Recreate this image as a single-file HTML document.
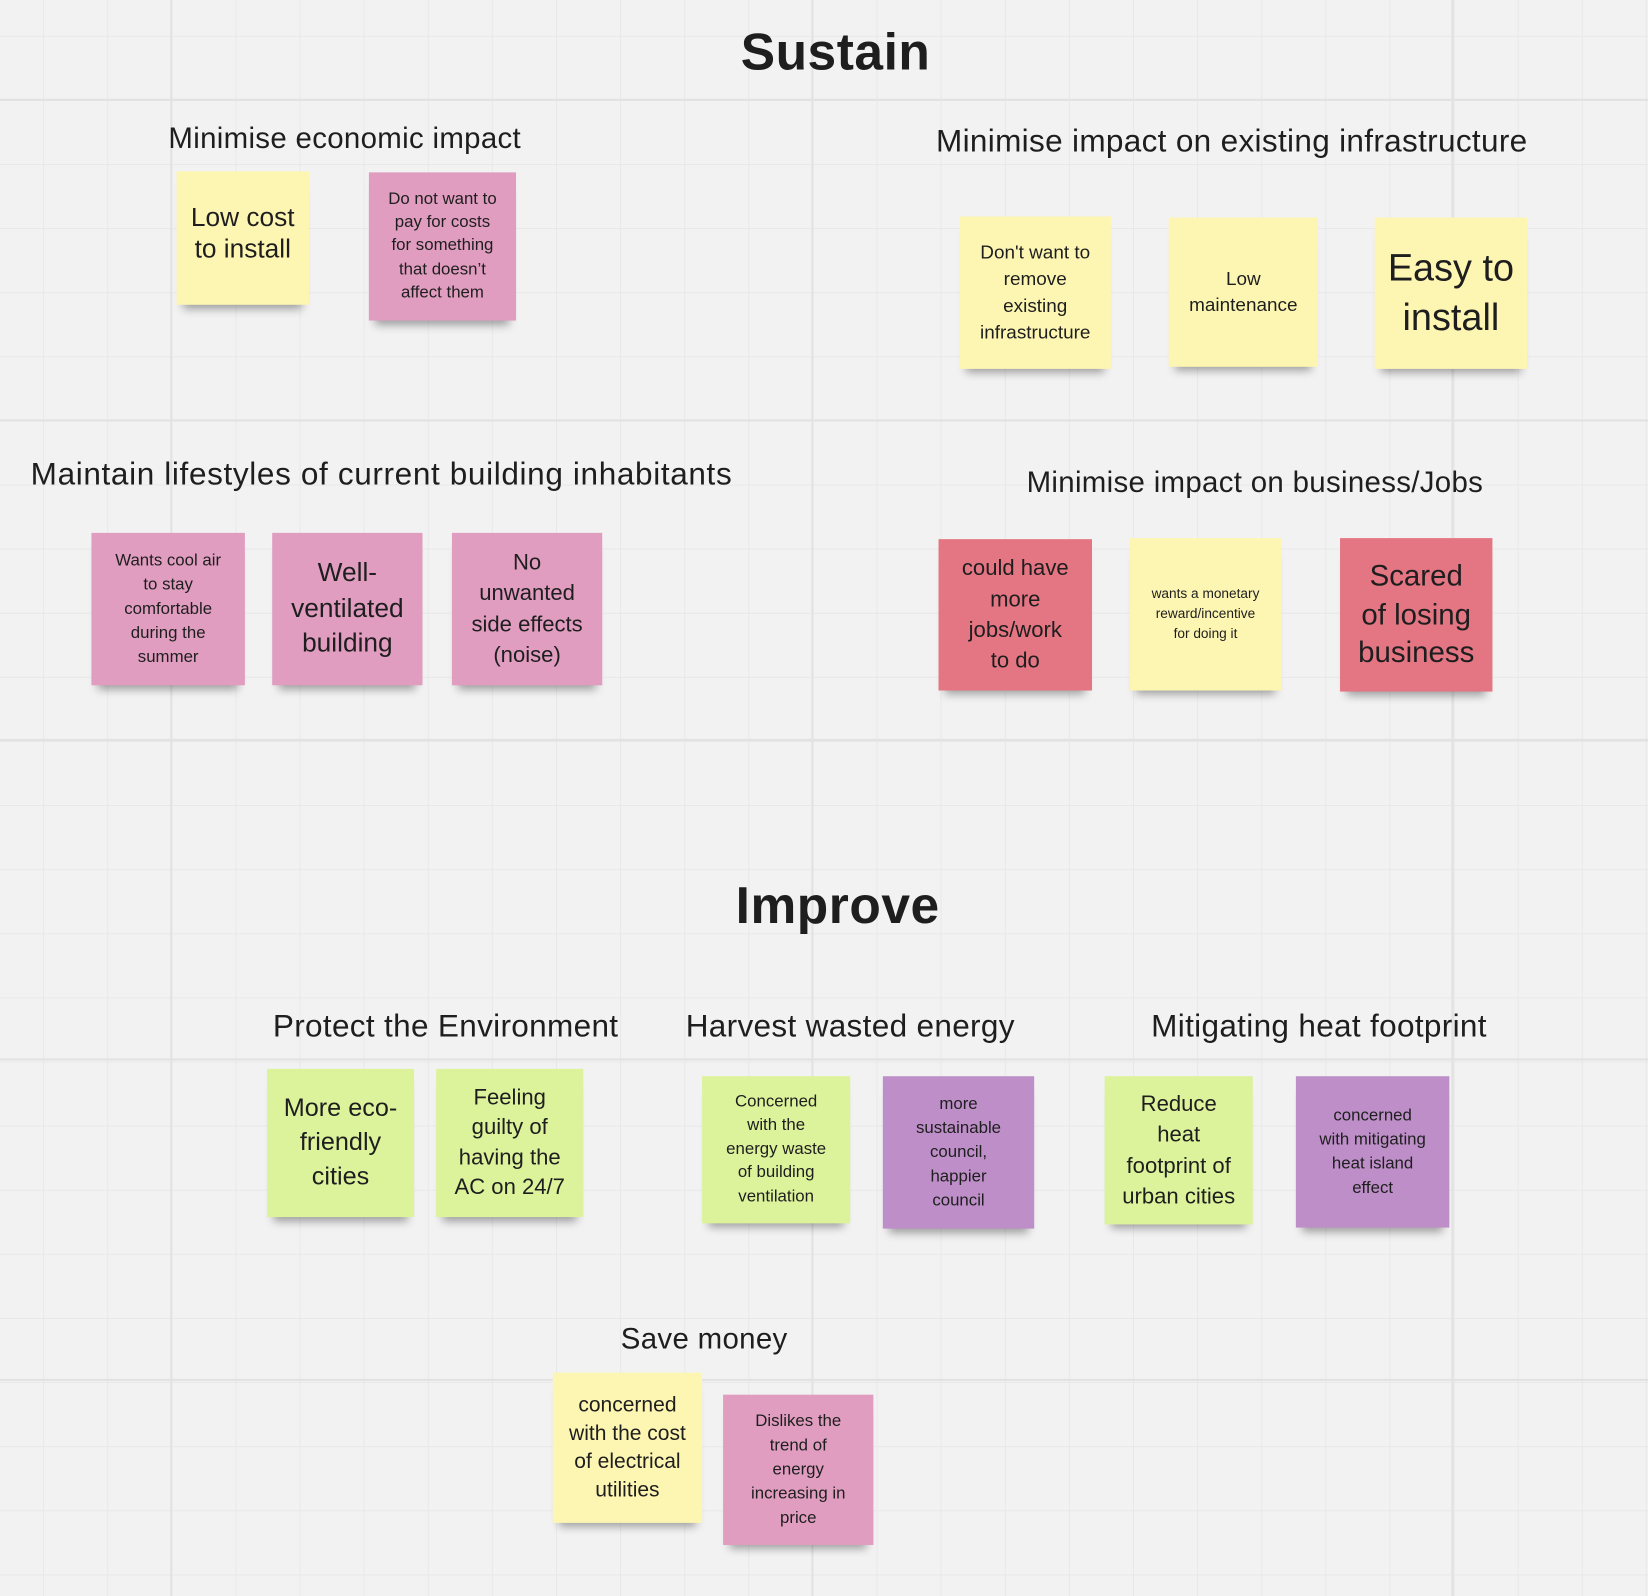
<!DOCTYPE html>
<html><head><meta charset="utf-8"><style>
html,body{margin:0;padding:0;width:1648px;height:1596px;overflow:hidden;background:#f2f2f2}
#w{position:absolute;left:0;top:0;width:1568px;height:1519px;transform:scale(1.051);transform-origin:0 0;
background-color:#f2f2f2;
background-image:linear-gradient(to right,#e8e8e8 1px,transparent 1px),linear-gradient(to bottom,#e8e8e8 1px,transparent 1px);
background-size:61px 61px;background-position:41px 34px;font-family:"Liberation Sans",sans-serif;color:#1e1e1e}
.vl{position:absolute;top:0;width:2px;height:1519px;background:#e2e2e2}
.hl{position:absolute;left:0;height:2px;width:1568px;background:#e2e2e2}
.t{position:absolute;white-space:nowrap;transform:translate(-50%,-50%)}
.h{font-weight:bold;font-size:49px;letter-spacing:0.5px}
.s{font-size:28px;letter-spacing:0.3px}
.n{position:absolute;display:flex;align-items:center;justify-content:center;text-align:center;box-sizing:border-box;padding:4px;line-height:1.2;white-space:nowrap;box-shadow:0 10px 8px -6px rgba(0,0,0,0.35)}
.y{background:#fdf6b2}.p{background:#e09dc0}.r{background:#e47583}.g{background:#dcf39c}.v{background:#bd8ec8}
</style></head><body><div id="w">
<div class="vl" style="left:162px"></div><div class="vl" style="left:772px"></div><div class="vl" style="left:1381px"></div>
<div class="hl" style="top:94px"></div><div class="hl" style="top:399px"></div><div class="hl" style="top:703px"></div><div class="hl" style="top:1007px"></div><div class="hl" style="top:1312px"></div>

<div class="t h" style="left:795px;top:50px">Sustain</div>
<div class="t h" style="left:797px;top:862px">Improve</div>
<div class="t s" style="left:328px;top:132px">Minimise economic impact</div>
<div class="t s" style="left:1172px;top:135px;font-size:30px">Minimise impact on existing infrastructure</div>
<div class="t s" style="left:363px;top:452px;font-size:30px;letter-spacing:0.6px">Maintain lifestyles of current building inhabitants</div>
<div class="t s" style="left:1194px;top:459px">Minimise impact on business/Jobs</div>
<div class="t s" style="left:424px;top:977px;font-size:30px">Protect the Environment</div>
<div class="t s" style="left:809px;top:977px;font-size:30px">Harvest wasted energy</div>
<div class="t s" style="left:1255px;top:977px;font-size:30px">Mitigating heat footprint</div>
<div class="t s" style="left:670px;top:1274px">Save money</div>

<div class="n y" style="left:168px;top:163px;width:126px;height:127px;font-size:25px;padding-bottom:14px">Low cost<br>to install</div>
<div class="n p" style="left:351px;top:164px;width:140px;height:141px;font-size:16px;line-height:1.4">Do not want to<br>pay for costs<br>for something<br>that doesn’t<br>affect them</div>
<div class="n y" style="left:913px;top:206px;width:144px;height:145px;font-size:18px;line-height:1.4">Don't want to<br>remove<br>existing<br>infrastructure</div>
<div class="n y" style="left:1112px;top:207px;width:142px;height:142px;font-size:18px;line-height:1.4">Low<br>maintenance</div>
<div class="n y" style="left:1308px;top:207px;width:145px;height:144px;font-size:36px;line-height:1.3">Easy to<br>install</div>
<div class="n p" style="left:87px;top:507px;width:146px;height:145px;font-size:16px;line-height:1.45">Wants cool air<br>to stay<br>comfortable<br>during the<br>summer</div>
<div class="n p" style="left:259px;top:507px;width:143px;height:145px;font-size:25px;line-height:1.35">Well-<br>ventilated<br>building</div>
<div class="n p" style="left:430px;top:507px;width:143px;height:145px;font-size:21px;line-height:1.4">No<br>unwanted<br>side effects<br>(noise)</div>
<div class="n r" style="left:893px;top:513px;width:146px;height:144px;font-size:21px;line-height:1.4">could have<br>more<br>jobs/work<br>to do</div>
<div class="n y" style="left:1075px;top:512px;width:144px;height:145px;font-size:13px;line-height:1.45">wants a monetary<br>reward/incentive<br>for doing it</div>
<div class="n r" style="left:1275px;top:512px;width:145px;height:146px;font-size:28px;line-height:1.3">Scared<br>of losing<br>business</div>
<div class="n g" style="left:254px;top:1017px;width:140px;height:141px;font-size:24px;line-height:1.35">More eco-<br>friendly<br>cities</div>
<div class="n g" style="left:415px;top:1017px;width:140px;height:141px;font-size:21px;line-height:1.35">Feeling<br>guilty of<br>having the<br>AC on 24/7</div>
<div class="n g" style="left:668px;top:1024px;width:141px;height:140px;font-size:16px;line-height:1.4">Concerned<br>with the<br>energy waste<br>of building<br>ventilation</div>
<div class="n v" style="left:840px;top:1024px;width:144px;height:145px;font-size:16px;line-height:1.45">more<br>sustainable<br>council,<br>happier<br>council</div>
<div class="n g" style="left:1051px;top:1024px;width:141px;height:141px;font-size:21px;line-height:1.4">Reduce<br>heat<br>footprint of<br>urban cities</div>
<div class="n v" style="left:1233px;top:1024px;width:146px;height:144px;font-size:16px;line-height:1.45">concerned<br>with mitigating<br>heat island<br>effect</div>
<div class="n y" style="left:526px;top:1306px;width:142px;height:143px;font-size:20px;line-height:1.35">concerned<br>with the cost<br>of electrical<br>utilities</div>
<div class="n p" style="left:688px;top:1327px;width:143px;height:143px;font-size:16px;line-height:1.45">Dislikes the<br>trend of<br>energy<br>increasing in<br>price</div>
</div></body></html>
